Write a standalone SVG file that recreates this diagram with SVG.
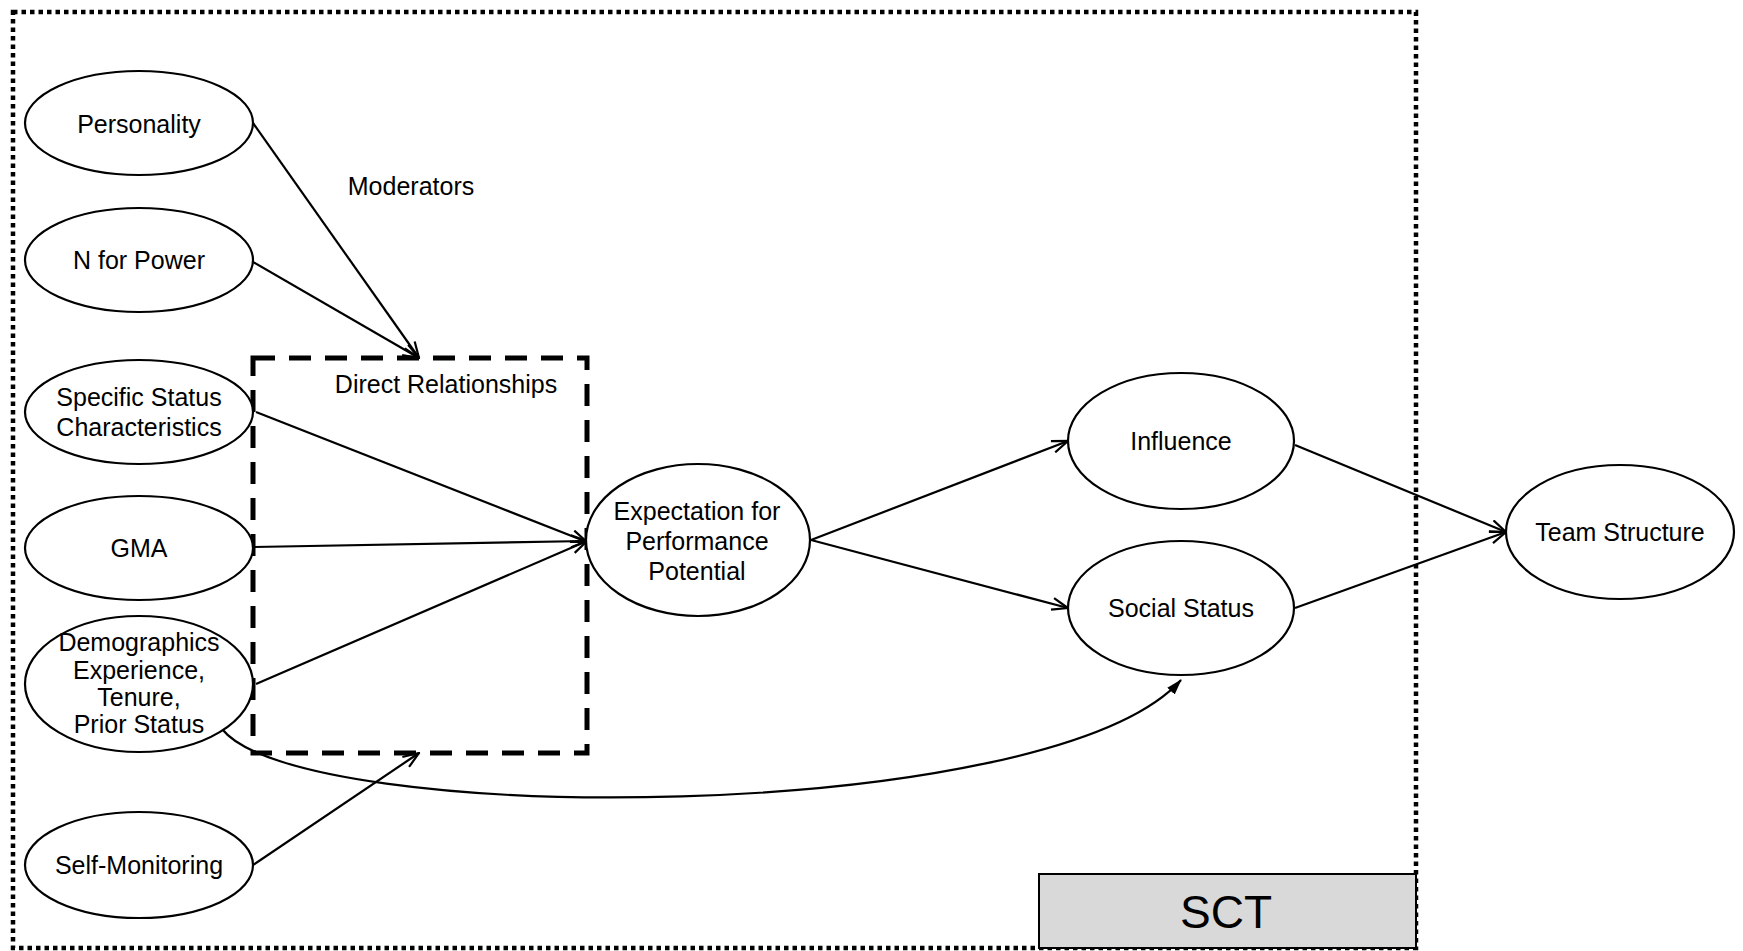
<svg xmlns="http://www.w3.org/2000/svg" width="1743" height="951" viewBox="0 0 1743 951">
  <style>
    .node ellipse { fill: #fff; stroke: #000; stroke-width: 2.2; }
    .node text, .label { font-family: "Liberation Sans", Arial, sans-serif; font-size: 25px; fill: #000; text-anchor: middle; }
    .small { font-size: 20px; }
    .edge { fill: none; stroke: #000; stroke-width: 2.2; }
    .open { marker-end: url(#arrowOpen); }
  </style>
  <defs>
    <marker id="arrowOpen" viewBox="0 0 18 14" refX="17" refY="7" markerWidth="18" markerHeight="14" markerUnits="userSpaceOnUse" orient="auto">
      <path d="M1,1 L17,7 L1,13" fill="none" stroke="#000" stroke-width="2.2"/>
    </marker>
    <marker id="arrowFilled" viewBox="0 0 16 12" refX="15" refY="6" markerWidth="16" markerHeight="12" markerUnits="userSpaceOnUse" orient="auto">
      <path d="M0,1 L16,6 L0,11 Z" fill="#000"/>
    </marker>
  </defs>
  <rect width="1743" height="951" fill="#fff"/>

  <!-- SCT boundary -->
  <rect x="13" y="12" width="1403" height="936" fill="none" stroke="#000" stroke-width="4.5" stroke-dasharray="4.5 4"/>
  <g id="sct-label">
    <rect x="1039" y="874" width="377" height="74" fill="#d9d9d9" stroke="#000" stroke-width="2"/>
    <text class="label" x="1226" y="928" style="font-size:46px">SCT</text>
  </g>

  <!-- direct relationships frame -->
  <g id="direct-relationships">
    <rect x="253" y="358" width="334" height="395" fill="none" stroke="#000" stroke-width="5" stroke-dasharray="22 14"/>
    <text class="label" x="446" y="393">Direct Relationships</text>
  </g>
  <text id="moderators" class="label" x="411" y="195">Moderators</text>

  <g id="connectors">
    <line class="edge open" x1="253" y1="123" x2="419" y2="358"/>
    <line class="edge open" x1="253" y1="262" x2="419" y2="358"/>
    <line class="edge open" x1="256" y1="412" x2="587" y2="542"/>
    <line class="edge open" x1="253" y1="547" x2="587" y2="541"/>
    <line class="edge open" x1="256" y1="684" x2="587" y2="541"/>
    <line class="edge open" x1="253" y1="865" x2="419" y2="753"/>
    <line class="edge open" x1="811" y1="540" x2="1068" y2="441"/>
    <line class="edge open" x1="811" y1="540" x2="1068" y2="608"/>
    <line class="edge open" x1="1295" y1="445" x2="1506" y2="532"/>
    <line class="edge open" x1="1295" y1="608" x2="1506" y2="532"/>
    <path class="edge" d="M222,729 C300,828 1050,826 1181,680" marker-end="url(#arrowFilled)"/>
  </g>

  <g id="personality" class="node">
    <ellipse cx="139" cy="123" rx="114" ry="52"/>
    <text x="139" y="133">Personality</text>
  </g>
  <g id="n-for-power" class="node">
    <ellipse cx="139" cy="260" rx="114" ry="52"/>
    <text x="139" y="269">N for Power</text>
  </g>
  <g id="specific-status" class="node">
    <ellipse cx="139" cy="412" rx="114" ry="52"/>
    <text x="139" y="406">Specific Status</text>
    <text x="139" y="436">Characteristics</text>
  </g>
  <g id="gma" class="node">
    <ellipse cx="139" cy="548" rx="114" ry="52"/>
    <text x="139" y="557">GMA</text>
  </g>
  <g id="demographics" class="node">
    <ellipse cx="139" cy="684" rx="114" ry="68"/>
    <text class="small" x="139" y="651">Demographics</text>
    <text class="small" x="139" y="679">Experience,</text>
    <text class="small" x="139" y="706">Tenure,</text>
    <text class="small" x="139" y="733">Prior Status</text>
  </g>
  <g id="self-monitoring" class="node">
    <ellipse cx="139" cy="865" rx="114" ry="53"/>
    <text x="139" y="874">Self-Monitoring</text>
  </g>
  <g id="expectation" class="node">
    <ellipse cx="698" cy="540" rx="112" ry="76"/>
    <text x="697" y="520">Expectation for</text>
    <text x="697" y="550">Performance</text>
    <text x="697" y="580">Potential</text>
  </g>
  <g id="influence" class="node">
    <ellipse cx="1181" cy="441" rx="113" ry="68"/>
    <text x="1181" y="450">Influence</text>
  </g>
  <g id="social-status" class="node">
    <ellipse cx="1181" cy="608" rx="113" ry="67"/>
    <text x="1181" y="617">Social Status</text>
  </g>
  <g id="team-structure" class="node">
    <ellipse cx="1620" cy="532" rx="114" ry="67"/>
    <text x="1620" y="541">Team Structure</text>
  </g>
</svg>
